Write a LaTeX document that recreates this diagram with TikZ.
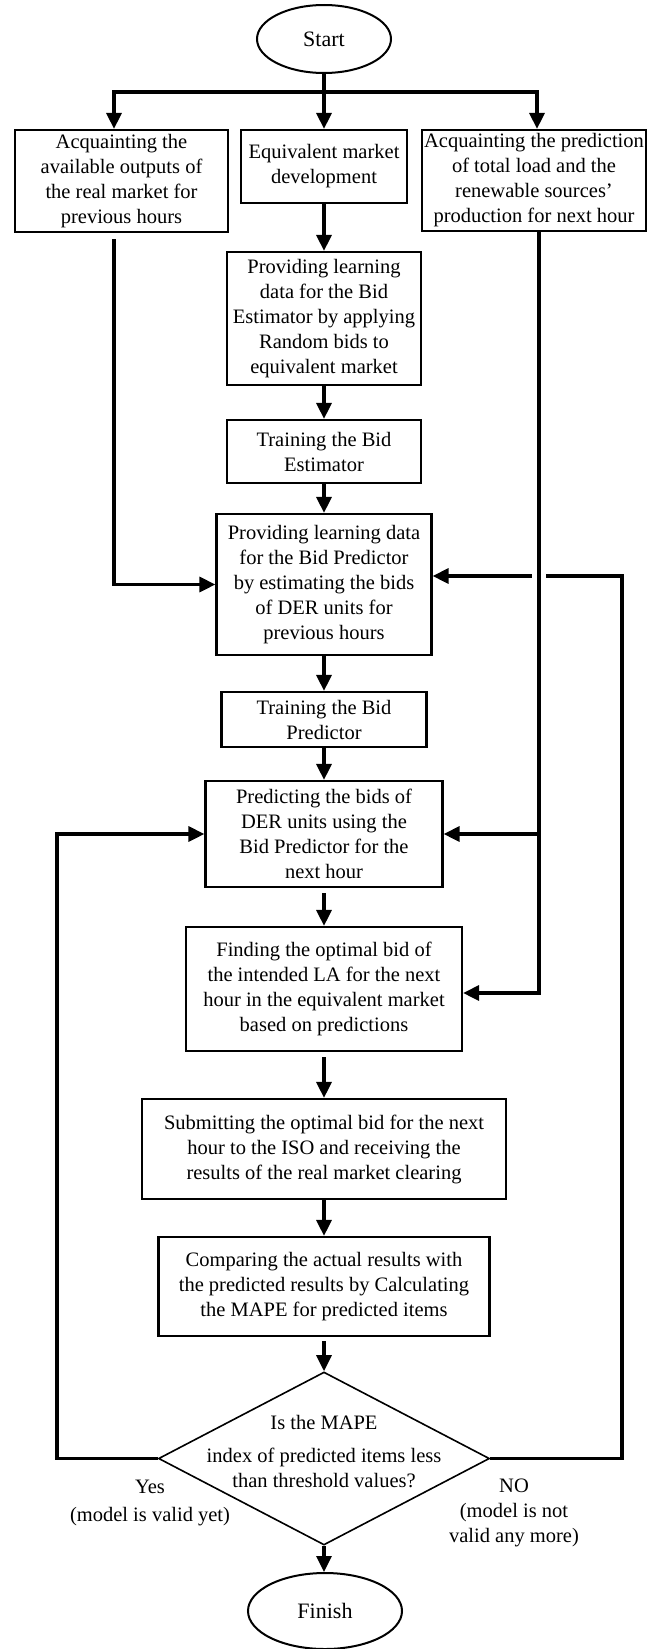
\documentclass[tikz,border=0pt]{standalone}
\usepackage{fontspec}
\setmainfont{Liberation Serif}
\usetikzlibrary{arrows.meta,shapes.geometric,calc}
\begin{document}
\begin{tikzpicture}[x=0.5pt,y=-0.5pt,
  font=\fontsize{10.25pt}{12.5pt}\selectfont,
  box/.style={draw,line width=1.1pt,inner sep=0pt,align=center},
  term/.style={draw,ellipse,line width=1pt,inner sep=0pt,font=\fontsize{11pt}{13pt}\selectfont},
  conn/.style={line width=1.6pt},
  arr/.style={line width=1.6pt,-{Triangle[length=8pt,width=7.5pt]}}]
\useasboundingbox (0,0) rectangle (657,1649);

\node[term,minimum width=67pt,minimum height=34pt] (s) at (324,39) {Start};
\coordinate (split) at (324,92);
\node[box,minimum width=106.5pt,minimum height=51pt] (a1) at (121.5,181) {Acquainting the\\available outputs of\\the real market for\\previous hours};
\node[box,minimum width=83pt,minimum height=36.5pt] (a2) at (324,166.5) {Equivalent market\\development};
\node[box,minimum width=112pt,minimum height=50.5pt] (a3) at (534,180.5) {Acquainting the prediction\\of total load and the\\renewable sources’\\production for next hour};

\node[box,minimum width=97pt,minimum height=66.5pt] (p1) at (324,318.5) {Providing learning\\data for the Bid\\Estimator by applying\\Random bids to\\equivalent market};
\node[box,minimum width=97pt,minimum height=31.5pt] (t1) at (324,451.5) {Training the Bid\\Estimator};
\node[box,minimum width=107.5pt,minimum height=70.5pt] (p2) at (324,584.5) {Providing learning data\\for the Bid Predictor\\by estimating the bids\\of DER units for\\previous hours};
\node[box,minimum width=102.5pt,minimum height=27.5pt] (t2) at (324,719.5) {Training the Bid\\Predictor};
\node[box,minimum width=118.5pt,minimum height=53pt] (pr) at (324,834) {Predicting the bids of\\DER units using the\\Bid Predictor for the\\next hour};
\node[box,minimum width=138pt,minimum height=62pt] (fi) at (324,989) {Finding the optimal bid of\\the intended LA for the next\\hour in the equivalent market\\based on predictions};
\node[box,minimum width=182pt,minimum height=50pt] (su) at (324,1149) {Submitting the optimal bid for the next\\hour to the ISO and receiving the\\results of the real market clearing};
\node[box,minimum width=165.5pt,minimum height=49.5pt] (co) at (324,1286.5) {Comparing the actual results with\\the predicted results by Calculating\\the MAPE for predicted items};
\node[draw,diamond,line width=0.8pt,inner sep=0pt,minimum width=165.5pt,minimum height=86.5pt] (dia) at (324,1458.5) {};
\node[align=center,inner sep=0pt] (diat) at (324,1452) {Is the MAPE\\[4pt]index of predicted items less\\than threshold values?};
\node[term,minimum width=77pt,minimum height=38pt] (fin) at (325,1611) {Finish};

\node[align=center,inner sep=0pt] (yes) at (150,1502.5) {Yes\\[1.5pt](model is valid yet)};
\node[align=center,inner sep=0pt] (no) at (514,1512.5) {NO\\(model is not\\valid any more)};

\coordinate (lx) at (57,0);
\coordinate (rx) at (622,0);

% top split
\draw[conn] (s) -- (split);
\draw[arr] (split) -| ([xshift=-3.75pt]a1.north);
\draw[arr] (split) -| ([xshift=1.5pt]a3.north);
\draw[arr] (split) -- (a2);

% main column
\draw[arr] (a2) -- (p1);
\draw[arr] (p1) -- (t1);
\draw[arr] (t1) -- (p2);
\draw[arr] (p2) -- (t2);
\draw[arr] (t2) -- (pr);
\draw[arr,shorten <=2.5pt] (pr) -- (fi);
\draw[arr,shorten <=2.5pt] (fi) -- (su);
\draw[arr] (su) -- (co);
\draw[arr,shorten <=2pt] (co) -- (dia);
\draw[arr] (dia.south) -- (dia.south |- fin.north);

% left input line
\draw[arr,shorten <=3pt] ([xshift=-3.75pt]a1.south) |- (p2.west);

% loops
\draw[arr] (dia.west) -- (dia.west -| lx) |- (pr.west);
\draw[arr] (dia.east) -- (dia.east -| rx) |- ([yshift=4.25pt]p2.east);

% gap where the right input line crosses
\coordinate (rtop) at ([xshift=2.5pt]a3.south);
\fill[white] ($(rtop |- p2.east)+(-7,-14.5)$) rectangle ($(rtop |- p2.east)+(7,-2.5)$);
\draw[arr] (rtop) |- ([yshift=-2pt]fi.east);
\draw[arr] (rtop |- pr.east) -- (pr.east);
\end{tikzpicture}
\end{document}
